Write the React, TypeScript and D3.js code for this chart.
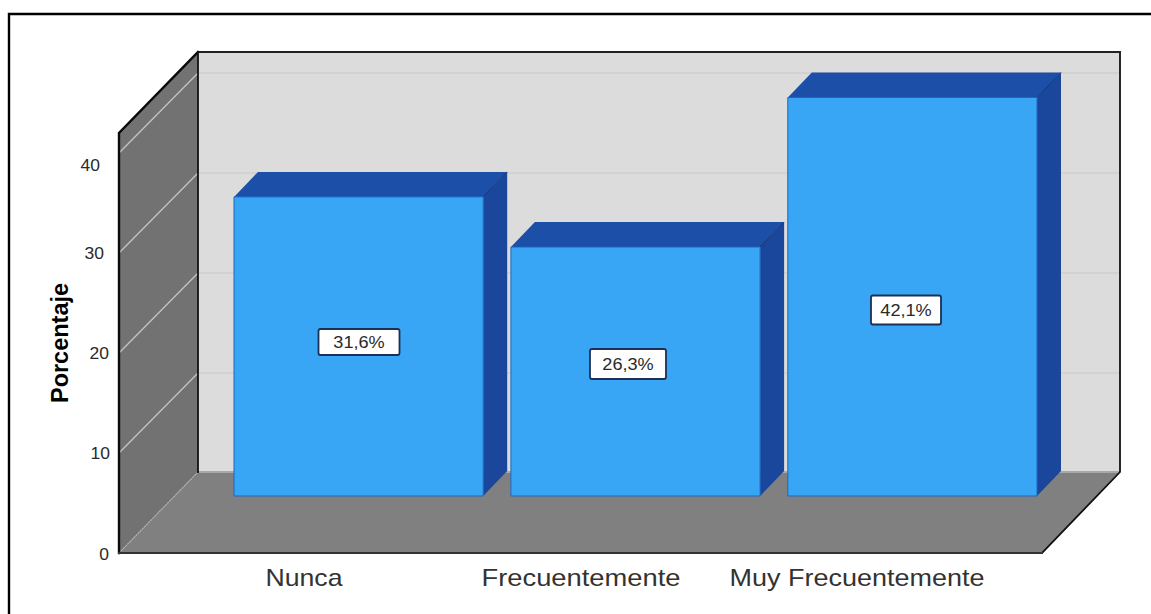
import React from "react";
import * as d3 from "d3";

const categories = ["Nunca", "Frecuentemente", "Muy Frecuentemente"];
const percentages = [31.6, 26.3, 42.1];
const percentLabels = ["31,6%", "26,3%", "42,1%"];
const yTicks = [0, 10, 20, 30, 40];
const yTitle = "Porcentaje";

const W = 1151, H = 614;
const FONT = "'Liberation Sans', Arial, sans-serif";
// Panel frame
const fx0 = 119, fx1 = 1042, fy0 = 553, ftop = 133;
const dx = 79, dy = 81;
const wallLeft = fx0 + dx, wallRight = 1120;
// Bars
const barBase = 496, barMaxH = 398.5, barDepth = 24;

const yScale = d3.scaleLinear().domain([0, 42]).range([fy0, ftop]);
const barH = d3.scaleLinear().domain([0, 42.1]).range([0, barMaxH]);
const xScale = d3.scaleBand<string>().domain(categories).range([234, 1037]).paddingInner(0.1);

const poly = d3.line<[number, number]>().curve(d3.curveLinearClosed);
const seg = d3.line<[number, number]>();

// Visual nudges of labels as they sit in the reference (index-aligned)
const tickRight = [109, 110, 109, 104, 100];
const tickShift = [1, 0, 0, 0, 12];
const boxCenterY = [342, 364, 310];
const boxW = [81, 76, 70];
const boxH = [26, 30, 29];
const catCenter = [304, 581, 857];
const catLen = [77, 199, 255];
const boxCx = [359, 628, 906];

const Stretched: React.FC<{ x: number; y: number; size: number; sx: number; anchor?: string; children: string }> = ({ x, y, size, sx, anchor = "middle", children }) => (
  <text
    transform={`translate(${x},${y}) scale(${sx},1)`}
    fontSize={size}
    fontFamily={FONT}
    textAnchor={anchor}
    fill="#2a2a2a"
  >
    {children}
  </text>
);

export default function App() {
  return (
    <svg width={W} height={H} viewBox={`0 0 ${W} ${H}`} style={{ position: "absolute", left: 0, top: 0, background: "#fff" }}>
      {/* outer frame */}
      <path d={`M9,${H}V14H${W}`} fill="none" stroke="#000" strokeWidth={2.4} />

      {/* back wall */}
      <path d={poly([[wallLeft, fy0 - dy - 420], [wallRight, fy0 - dy - 420], [wallRight, fy0 - dy], [wallLeft, fy0 - dy]])!} fill="#dcdcdc" />
      {/* left wall */}
      <path d={poly([[fx0, ftop], [wallLeft, ftop - dy], [wallLeft, fy0 - dy], [fx0, fy0]])!} fill="#727272" />
      {/* floor */}
      <path d={poly([[fx0, fy0], [wallLeft, fy0 - dy], [wallRight, fy0 - dy], [fx1, fy0]])!} fill="#808080" />
      <path d={seg([[wallLeft, fy0 - dy], [wallRight, fy0 - dy]])!} stroke="#a8a8a8" strokeWidth={2} />

      {/* gridlines */}
      {yTicks.filter(t => t > 0).map(t => (
        <g key={t} fill="none">
          <path d={seg([[fx0, yScale(t)], [wallLeft, yScale(t) - dy + 1]])!} stroke="#c4c4c4" strokeWidth={1.3} />
          <path d={seg([[wallLeft, yScale(t) - dy + 1], [wallRight, yScale(t) - dy + 1]])!} stroke="#cfcfcf" strokeWidth={1.3} />
        </g>
      ))}
      <path d={seg([[fx0, fy0], [wallLeft, fy0 - dy]])!} stroke="#b0b0b0" strokeWidth={1.2} strokeDasharray="2 1" />

      {/* frame lines */}
      <g fill="none" strokeLinecap="square">
        <path d={seg([[wallRight, ftop - dy], [wallRight, fy0 - dy], [fx1, fy0]])!} stroke="#111" strokeWidth={1.8} />
        <path d={seg([[fx0, fy0], [fx0, ftop], [wallLeft, ftop - dy]])!} stroke="#0a0a0a" strokeWidth={2.4} />
        <path d={seg([[wallLeft, ftop - dy], [wallRight, ftop - dy]])!} stroke="#222" strokeWidth={1.8} />
        <path d={seg([[wallLeft, ftop - dy], [wallLeft, fy0 - dy]])!} stroke="#111" strokeWidth={1.8} />
        <path d={seg([[fx0, fy0], [fx1, fy0]])!} stroke="#333" strokeWidth={2} />
      </g>

      {/* bars */}
      {categories.map((c, i) => {
        const x0 = xScale(c)!;
        const x1 = x0 + xScale.bandwidth();
        const top = barBase - barH(percentages[i]);
        return (
          <g key={c} strokeLinejoin="round">
            <path d={poly([[x0, top], [x1, top], [x1 + barDepth, top - barDepth - 1], [x0 + barDepth, top - barDepth - 1]])!} fill="#1c4fa8" />
            <path d={poly([[x1, top], [x1 + barDepth, top - barDepth - 1], [x1 + barDepth, barBase - barDepth - 1], [x1, barBase]])!} fill="#1a479c" />
            <path d={seg([[x1, top], [x1 + barDepth, top - barDepth - 1]])!} stroke="#14366f" strokeWidth={1} fill="none" />
            <rect x={x0} y={top} width={x1 - x0} height={barBase - top} fill="#38a6f5" stroke="#1f66c0" strokeWidth={1} />
          </g>
        );
      })}

      {/* value labels */}
      {categories.map((c, i) => (
        <g key={c}>
          <rect x={boxCx[i] - boxW[i] / 2} y={boxCenterY[i] - boxH[i] / 2} width={boxW[i]} height={boxH[i]} rx={2} fill="#fff" stroke="#1c2f55" strokeWidth={1.8} />
          <Stretched x={boxCx[i]} y={boxCenterY[i] + 6} size={16.5} sx={1.1}>{percentLabels[i]}</Stretched>
        </g>
      ))}

      {/* y ticks */}
      {yTicks.map((t, i) => (
        <Stretched key={t} x={tickRight[i]} y={yScale(t) + tickShift[i] + 6} size={16.5} sx={1.06} anchor="end">{String(t)}</Stretched>
      ))}

      {/* y title */}
      <text transform="translate(68,343) rotate(-90)" fontSize={24} fontWeight={700} fontFamily={FONT} textAnchor="middle" fill="#000" textLength={120} lengthAdjust="spacingAndGlyphs">{yTitle}</text>

      {/* categories */}
      {categories.map((c, i) => (
        <text key={c} x={catCenter[i]} y={586} fontSize={24} fontFamily={FONT} textAnchor="middle" fill="#333" textLength={catLen[i]} lengthAdjust="spacingAndGlyphs">{c}</text>
      ))}
    </svg>
  );
}
